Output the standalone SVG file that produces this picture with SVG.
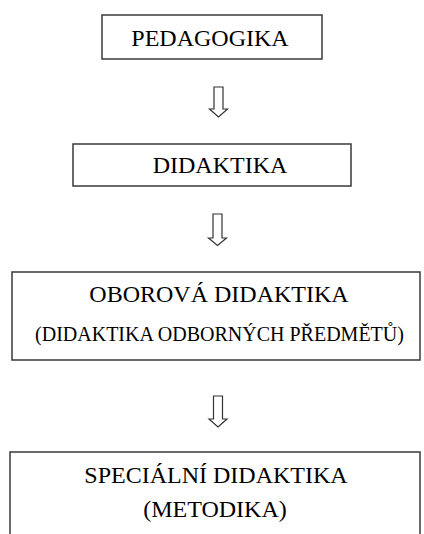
<svg xmlns="http://www.w3.org/2000/svg" width="424" height="534" viewBox="0 0 424 534">
<style>
.box{fill:#fff;stroke:#3a3a3a;stroke-width:1.5}
.t{font-family:"Liberation Serif","Times New Roman",serif;fill:#000;text-anchor:middle}
.big{font-size:24px}
.small{font-size:20px}
.arr{fill:#fff;stroke:#333;stroke-width:1.2;stroke-linejoin:miter}
</style>
<rect width="424" height="534" fill="#fff"/>
<g id="pedagogika">
<rect class="box" x="102" y="15" width="220" height="44"/>
<text class="t big" x="210" y="46">PEDAGOGIKA</text>
</g>
<g id="didaktika">
<rect class="box" x="73" y="144" width="278" height="42"/>
<text class="t big" x="220" y="173">DIDAKTIKA</text>
</g>
<g id="oborova">
<rect class="box" x="12" y="272" width="408" height="88"/>
<text class="t big" x="219" y="302">OBOROVÁ DIDAKTIKA</text>
<text class="t small" x="219.5" y="341">(DIDAKTIKA ODBORNÝCH PŘEDMĚTŮ)</text>
</g>
<g id="specialni">
<rect class="box" x="10" y="452" width="410" height="100"/>
<text class="t big" x="216" y="483">SPECIÁLNÍ DIDAKTIKA</text>
<text class="t big" x="215" y="517">(METODIKA)</text>
</g>
<g id="connectors">
<path class="arr" d="M214 87 h9 v22 h4.5 l-9 8 l-9 -8 h4.5 z"/>
<path class="arr" d="M213 214 h9 v24 h4.5 l-9 7.5 l-9 -7.5 h4.5 z"/>
<path class="arr" d="M213.5 396 h9 v23 h4.5 l-9 8 l-9 -8 h4.5 z"/>
</g>
</svg>
